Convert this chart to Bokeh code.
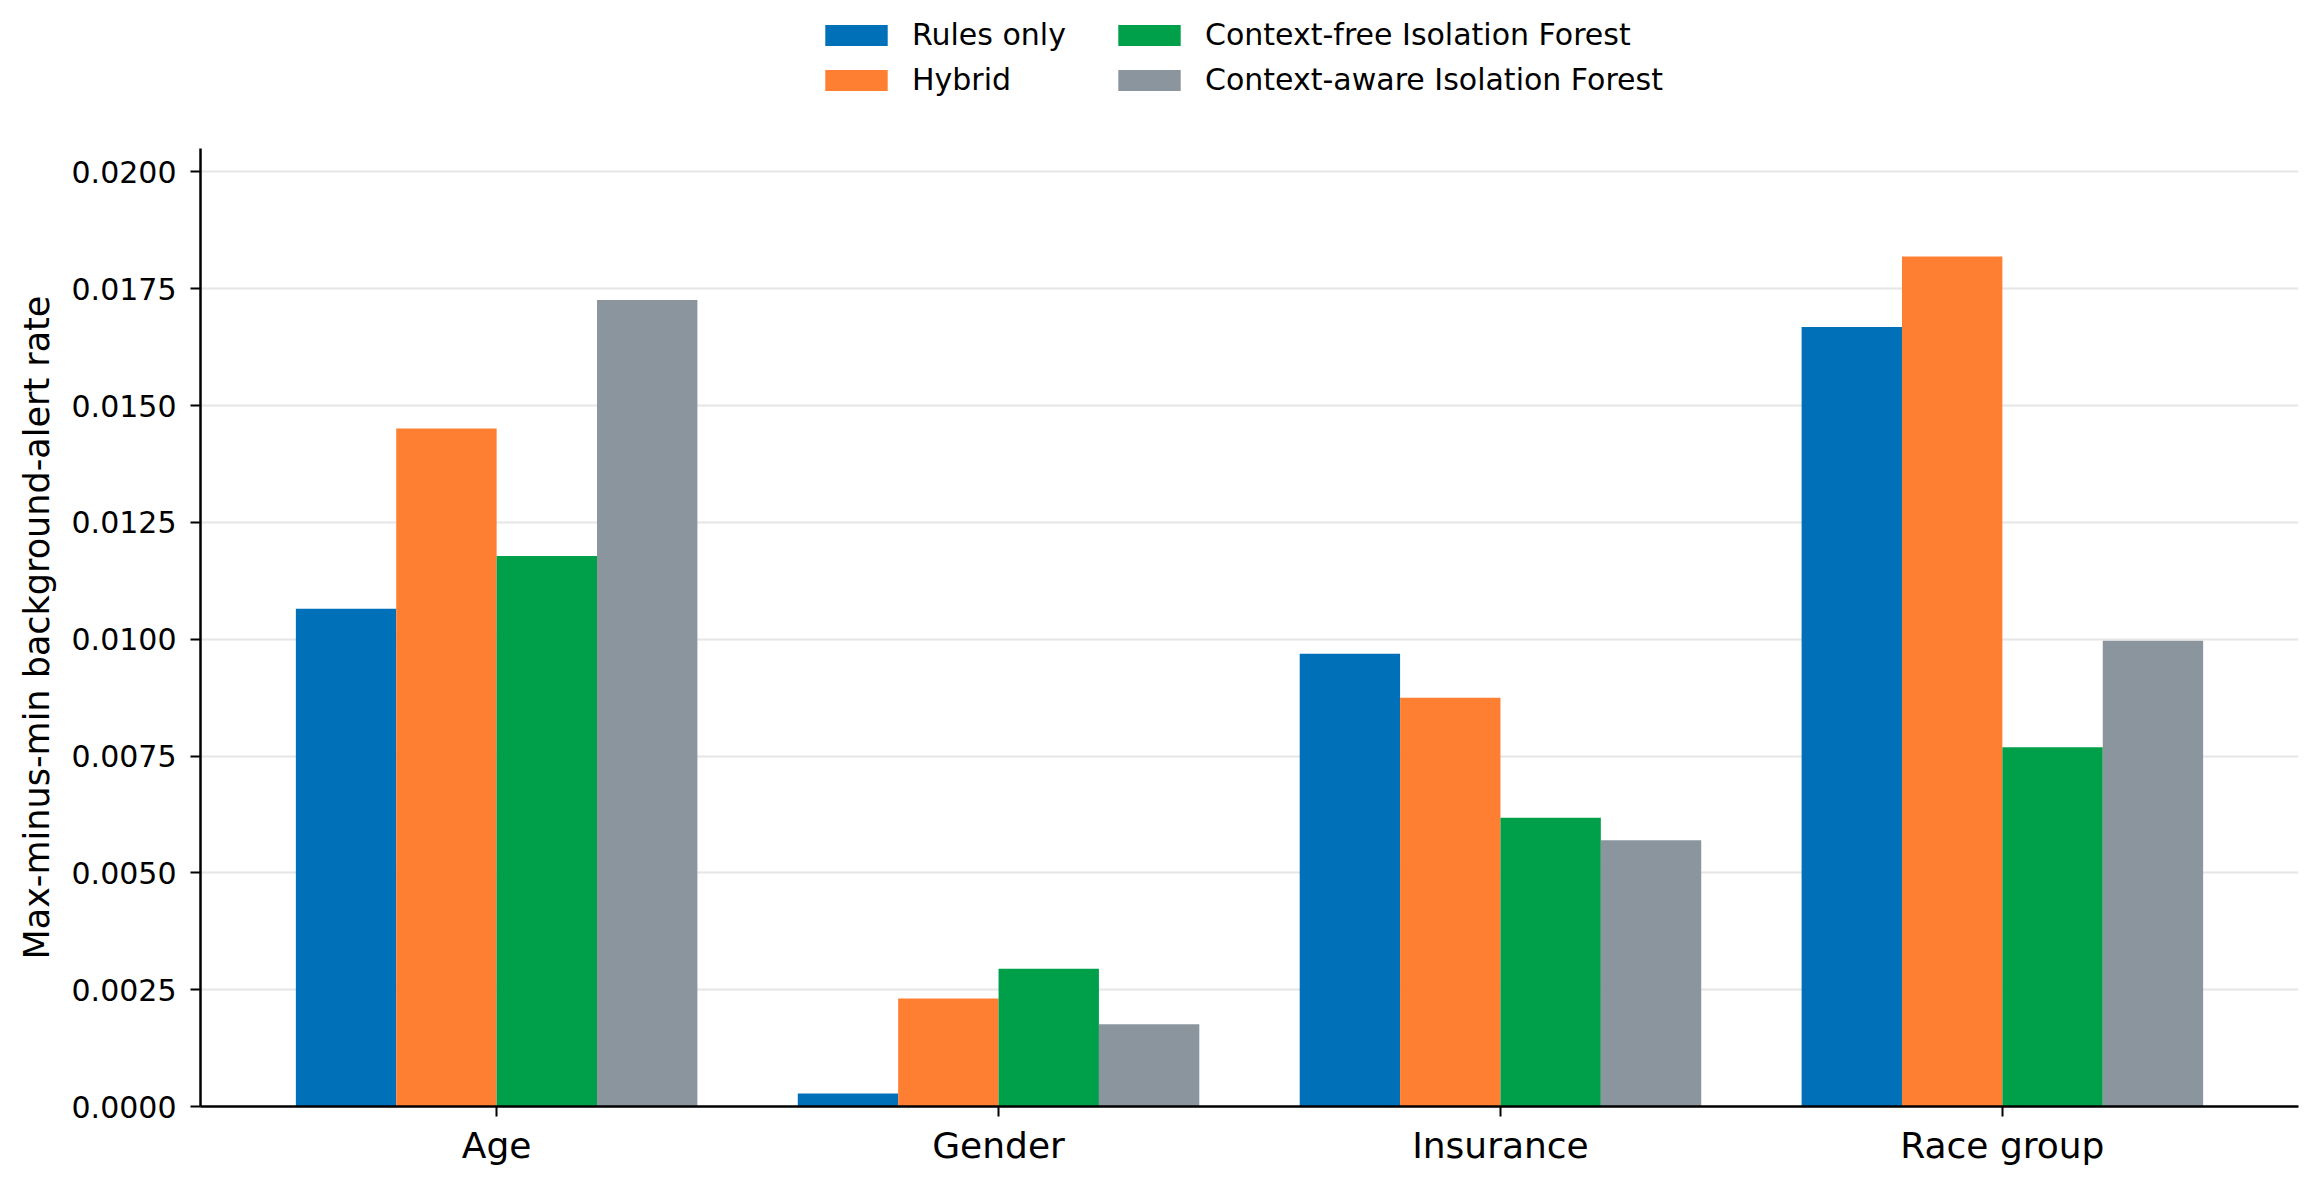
from bokeh.plotting import figure
from bokeh.models import (ColumnDataSource, FactorRange, Range1d, Legend, LegendItem,
                          FixedTicker, NumeralTickFormatter, Title)
from bokeh.transform import dodge
from bokeh.embed import file_html
from bokeh.resources import INLINE

# values
groups = ["Age", "Gender", "Insurance", "Race group"]
methods = ["Rules only", "Hybrid", "Context-free Isolation Forest",
           "Context-aware Isolation Forest"]
rules_only = [0.01065, 0.00028, 0.00969, 0.01668]
hybrid = [0.01451, 0.00231, 0.00875, 0.01819]
context_free_if = [0.01178, 0.00295, 0.00618, 0.00769]
context_aware_if = [0.01726, 0.00176, 0.00570, 0.00997]
y_ticks = [0.0, 0.0025, 0.0050, 0.0075, 0.0100, 0.0125, 0.0150, 0.0175, 0.0200]
y_label = "Max-minus-min background-alert rate"

colors = ["#0070b8", "#fe7f31", "#009f4a", "#8b959d"]
offsets = [-0.3, -0.1, 0.1, 0.3]
FONT = "DejaVu Sans"

source = ColumnDataSource(data=dict(group=groups, rules=rules_only, hybrid=hybrid,
                                    cf=context_free_if, ca=context_aware_if))

# the frame reaches the top of the canvas so the legend can sit inside it;
# the y axis itself is bounded to 0 .. 0.0205
p = figure(x_range=FactorRange(*groups, range_padding=0.045),
           y_range=Range1d(0, 0.02367),
           width=2307, height=1168,
           output_backend="svg", toolbar_location=None,
           min_border_left=200, min_border_right=9,
           min_border_top=0, min_border_bottom=61)

renderers = []
for col, off, c in zip(["rules", "hybrid", "cf", "ca"], offsets, colors):
    r = p.vbar(x=dodge("group", off, range=p.x_range), top=col, width=0.2,
               source=source, fill_color=c, line_color=None)
    renderers.append(r)

p.outline_line_color = None
p.xgrid.grid_line_color = None
p.ygrid.grid_line_color = "#e6e6e6"
p.ygrid.grid_line_width = 2

p.yaxis.bounds = (0, 0.0205)
p.yaxis.ticker = FixedTicker(ticks=y_ticks)
p.yaxis.formatter = NumeralTickFormatter(format="0.0000")
p.yaxis.major_label_text_font_size = "30px"
p.yaxis.major_label_standoff = 14
p.yaxis.minor_tick_line_color = None

p.xaxis.major_label_text_font_size = "36px"
p.xaxis.major_label_standoff = 8

for ax in (p.xaxis, p.yaxis):
    ax.major_label_text_font = FONT
    ax.major_label_text_color = "black"
    ax.axis_line_width = 2.5
    ax.axis_line_color = "black"
    ax.major_tick_line_width = 2
    ax.major_tick_line_color = "black"
    ax.major_tick_in = 0
    ax.major_tick_out = 10

# y axis label as a side title, so it can be centred on the bounded axis
# instead of on the taller frame
ylab = Title(text=y_label, align="left", offset=147, standoff=24,
             text_font=FONT, text_font_size="35px", text_font_style="normal",
             text_color="black")
p.add_layout(ylab, "left")


def make_legend(idx, x):
    # bokeh insets the swatch by 10% on each side, so the glyph box is larger
    leg = Legend(items=[LegendItem(label=methods[i], renderers=[renderers[i]]) for i in idx],
                 location=(x, 1009))
    leg.border_line_color = None
    leg.background_fill_alpha = 0
    leg.padding = 0
    leg.margin = 0
    leg.spacing = 10
    leg.glyph_width = 78
    leg.glyph_height = 26
    leg.label_standoff = 17
    leg.label_height = 34
    leg.label_text_font = FONT
    leg.label_text_font_size = "30px"
    leg.label_text_color = "black"
    return leg


p.add_layout(make_legend([0, 1], 617))
p.add_layout(make_legend([2, 3], 910))

open("out.html", "w").write(file_html(p, INLINE))
